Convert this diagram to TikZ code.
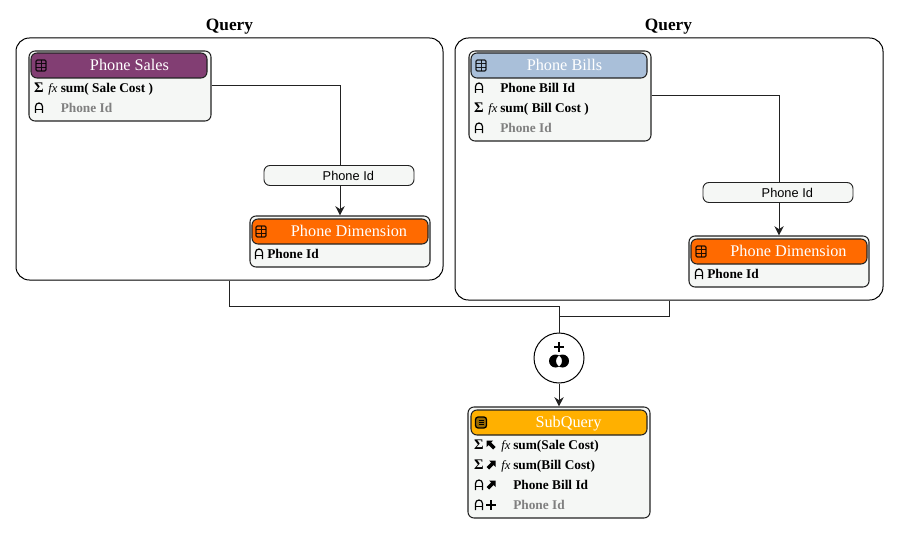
\documentclass[tikz,border=0pt]{standalone}
\usepackage{fontspec}
\usepackage{xcolor}
\usetikzlibrary{arrows.meta}
\setmainfont{Liberation Serif}
\setsansfont{Liberation Sans}
\definecolor{salescol}{HTML}{823E73}
\definecolor{billscol}{HTML}{A9BFD9}
\definecolor{dimcol}{HTML}{FF6A00}
\definecolor{subcol}{HTML}{FFB000}
\definecolor{panelcol}{HTML}{F5F7F5}
\definecolor{linecol}{HTML}{222222}
\tikzset{
	sized/.style n args={2}{minimum width=#1*0.75pt,minimum height=#2*0.75pt,inner sep=0pt},
	query/.style={draw=black,line width=0.75pt,rounded corners=10pt,fill=white},
	table/.style={draw=linecol,line width=0.8pt,rounded corners=4.5pt,fill=panelcol},
	head/.style={draw=linecol,line width=0.8pt,rounded corners=4.5pt,sized={176}{25},fill=#1},
	title/.style={text=white,font=\fontsize{12.2}{14}\selectfont,inner sep=0pt,text height=8pt,text depth=0pt},
	row/.style={anchor=west,inner sep=0pt,font=\fontsize{10}{12}\selectfont\bfseries,text height=6.6pt,text depth=0pt},
	greyrow/.style={row,text=black!50},
	glyph/.style={inner sep=0pt,font=\fontsize{11}{12}\selectfont\bfseries,text height=6.6pt,text depth=0pt},
	fxglyph/.style={inner sep=0pt,font=\fontsize{9.5}{11}\selectfont\itshape,text height=6.6pt,text depth=0pt},
	joinlabel/.style={draw=linecol,line width=0.7pt,rounded corners=4.5pt,fill=panelcol,sized={150}{20},font=\sffamily\fontsize{9.6}{11}\selectfont},
	heading/.style={inner sep=0pt,font=\fontsize{13}{15}\selectfont\bfseries},
	arrowline/.style={draw=linecol,line width=0.75pt,-{Stealth[length=7pt,width=7pt]}},
	plainline/.style={draw=linecol,line width=0.75pt},
	pics/grid/.style={code={
		\draw[black,opacity=0.85,line width=0.9pt,rounded corners=1pt] (-5,-5.5) rectangle (5,5.5);
		\draw[black,opacity=0.85,line width=0.7pt] (-5,-1.8) -- (5,-1.8) (-5,1.8) -- (5,1.8) (0,-5.5) -- (0,5.5);
	}},
	pics/attr/.style={code={
		\draw[black,line width=0.9pt] (-3.5,5) -- (-3.5,-1.5) arc[start angle=180,end angle=360,radius=3.5] -- (3.5,5);
		\draw[black,line width=0.9pt] (-3.5,1.5) -- (3.5,1.5);
	}},
	pics/subicon/.style={code={
		\draw[black,line width=1pt,fill=subcol!60!black,rounded corners=2pt] (-5.5,-5.5) rectangle (5.5,5.5);
		\draw[black,line width=0.7pt] (-2.5,-2) -- (2.5,-2) (-2.5,0) -- (2.5,0) (-2.5,2) -- (2.5,2);
	}},
	pics/upleft/.style={code={
		\fill[black] (-4.5,-4.5) -- (2,-4.5) -- (0,-2.5) -- (4.5,2) -- (2,4.5) -- (-2.5,0) -- (-4.5,2) -- cycle;
	}},
	pics/upright/.style={code={
		\fill[black] (4.5,-4.5) -- (-2,-4.5) -- (0,-2.5) -- (-4.5,2) -- (-2,4.5) -- (2.5,0) -- (4.5,2) -- cycle;
	}},
	pics/plus/.style={code={
		\draw[black,line width=1.5pt] (-5,0) -- (5,0) (0,-5) -- (0,5);
	}},
}
\begin{document}
\begin{tikzpicture}[x=0.75pt,y=-0.75pt]
	\useasboundingbox (0,0) rectangle (900,535);

	% the two queries
	\node[heading] (queryAtitle) at (229.5,26.5) {Query};
	\node[heading] (queryBtitle) at (668.5,26.5) {Query};
	\node[query,sized={427}{242}] (queryA) at (229.5,159) {};
	\node[query,sized={428}{262}] (queryB) at (669,169) {};

	% tables
	\node[table,sized={182}{70}] (sales) at (120,86) {};
	\node[table,sized={180}{51}] (dimA) at (340,241.5) {};
	\node[table,sized={182}{90}] (bills) at (560,96) {};
	\node[table,sized={180}{51}] (dimB) at (779,261.5) {};
	\node[table,sized={182}{111}] (subquery) at (559,462.5) {};

	% headers
	\node[head=salescol] (salesHead) at (119,65.5) {};
	\node[head=dimcol] (dimAHead) at (340,231.5) {};
	\node[head=billscol] (billsHead) at (559,65.5) {};
	\node[head=dimcol] (dimBHead) at (779,251.5) {};
	\node[head=subcol] (subHead) at (559,422.5) {};

	\node[title] (salesName) at (129.5,65.5) {Phone Sales};
	\node[title] (dimAName) at (349,231.5) {Phone Dimension};
	\node[title] (billsName) at (564.5,65.5) {Phone Bills};
	\node[title] (dimBName) at (788.5,251.5) {Phone Dimension};
	\node[title] (subName) at (568.5,422.5) {SubQuery};

	\pic at (41,65.5) {grid};
	\pic at (261,231.5) {grid};
	\pic at (481,65.5) {grid};
	\pic at (701,251.5) {grid};
	\pic at (481,422.5) {subicon};

	% rows of phone sales
	\node[glyph] (salesSigma) at (39,88.5) {Σ};
	\node[fxglyph] (salesFx) at (53,88.5) {fx};
	\node[row] (salesCost) at (60.5,88.5) {sum( Sale Cost )};
	\pic at (39,108) {attr};
	\node[greyrow] (salesId) at (60.5,108.5) {Phone Id};

	% rows of the first phone dimension
	\pic at (259,254) {attr};
	\node[row] (dimAId) at (267,254.5) {Phone Id};

	% rows of phone bills
	\pic at (479,88) {attr};
	\node[row] (billsBill) at (500,88.5) {Phone Bill Id};
	\node[glyph] (billsSigma) at (479,108.5) {Σ};
	\node[fxglyph] (billsFx) at (493,108.5) {fx};
	\node[row] (billsCost) at (500,108.5) {sum( Bill Cost )};
	\pic at (479,128) {attr};
	\node[greyrow] (billsId) at (500,128.5) {Phone Id};

	% rows of the second phone dimension
	\pic at (699,274) {attr};
	\node[row] (dimBId) at (707,274.5) {Phone Id};

	% rows of the subquery
	\node[glyph] (subSigmaA) at (479,445.5) {Σ};
	\pic at (491,445) {upleft};
	\node[fxglyph] (subFxA) at (506,445.5) {fx};
	\node[row] (subCostA) at (513,445.5) {sum(Sale Cost)};
	\node[glyph] (subSigmaB) at (479,465.5) {Σ};
	\pic at (491,465) {upright};
	\node[fxglyph] (subFxB) at (506,465.5) {fx};
	\node[row] (subCostB) at (513,465.5) {sum(Bill Cost)};
	\pic at (479,485) {attr};
	\pic at (491,485) {upright};
	\node[row] (subBill) at (513,485.5) {Phone Bill Id};
	\pic at (479,505) {attr};
	\pic at (491,505) {plus};
	\node[greyrow] (subId) at (513,505.5) {Phone Id};

	% union
	\node[draw=black,line width=0.75pt,circle,fill=white,minimum size=50*0.75pt,inner sep=0pt] (union) at (559,358) {};
	\pic at (559,347) {plus};
	\fill[black,even odd rule] (555.5,361) circle (6.5) (562.5,361) circle (6.5);

	% connectors
	\draw[arrowline] (sales.east) -| (dimA.north);
	\draw[arrowline] (bills.east) -| (dimB.north);
	\draw[plainline] (queryA.south) -- ++(0,26) -| (union.north);
	\draw[plainline] (queryB.south) -- ++(0,16) -| (union.north);
	\draw[arrowline] (union.south) -- (subquery.north);

	% labels on top of the lines
	\node[joinlabel] (joinA) at (339,175.5) {\hspace{14pt}Phone Id};
	\node[joinlabel] (joinB) at (778,192.5) {\hspace{14pt}Phone Id};
\end{tikzpicture}
\end{document}
